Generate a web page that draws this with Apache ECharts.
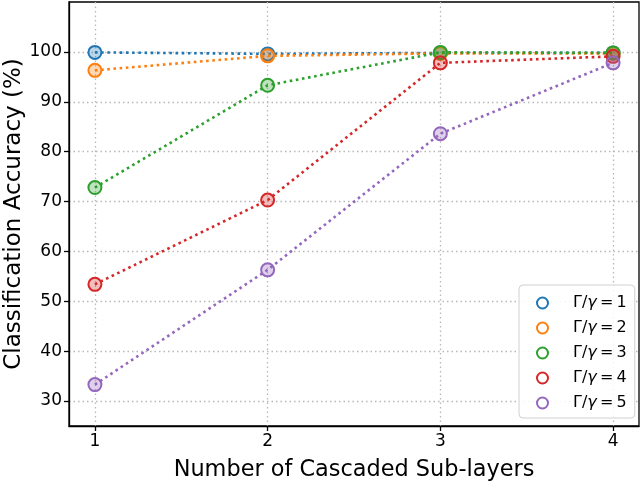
<!DOCTYPE html>
<html>
<head>
<meta charset="utf-8">
<script src="https://cdn.jsdelivr.net/npm/echarts@6/dist/echarts.min.js"></script>
<style>html,body{margin:0;padding:0;background:#fff}#c{width:640px;height:482px}</style>
</head>
<body>
<div id="c"></div>
<script>
const xValues = [1, 2, 3, 4];
const xTicks = [1, 2, 3, 4];
const yTicks = [30, 40, 50, 60, 70, 80, 90, 100];
const ratios = [1, 2, 3, 4, 5];
const acc1 = [99.9, 99.6, 99.8, 99.8];
const acc2 = [96.3, 99.2, 99.7, 99.7];
const acc3 = [72.8, 93.3, 99.9, 99.8];
const acc4 = [53.4, 70.3, 97.8, 99.1];
const acc5 = [33.3, 56.3, 83.6, 97.8];
const colors = ['#1f77b4', '#ff7f0e', '#2ca02c', '#d62728', '#9467bd'];
const allAcc = [acc1, acc2, acc3, acc4, acc5];

function rgba(hex, a) {
  const n = parseInt(hex.slice(1), 16);
  return 'rgba(' + ((n >> 16) & 255) + ',' + ((n >> 8) & 255) + ',' + (n & 255) + ',' + a + ')';
}
const names = ratios.map(r => 'Γ/γ = ' + r);
const series = allAcc.map((arr, i) => ({
  name: names[i],
  type: 'line',
  data: arr.map((v, j) => [xValues[j], v]),
  symbol: 'circle',
  symbolSize: 13,
  lineStyle: { color: colors[i], width: 2.6, type: [2.6, 3.6], cap: 'butt' },
  itemStyle: { color: rgba(colors[i], 0.3), borderColor: colors[i], borderWidth: 2 },
  emphasis: { disabled: true },
  z: 3 + i
}));
const chart = echarts.init(document.getElementById('c'), null, { renderer: 'canvas' });
const fontFam = 'DejaVu Sans';
chart.setOption({
  animation: false,
  backgroundColor: '#fff',
  grid: { left: 69, right: 1, top: 2, bottom: 56, outerBoundsMode: 'none', containLabel: false, show: true, borderColor: '#000', borderWidth: 1.3, backgroundColor: 'transparent' },
  xAxis: {
    type: 'value', min: 0.85, max: 4.15,
    name: 'Number of Cascaded Sub-layers', nameLocation: 'middle', nameGap: 33, nameMoveOverlap: false,
    nameTextStyle: { fontFamily: fontFam, fontSize: 22.4, color: '#000' },
    axisLine: { show: true, lineStyle: { color: '#000', width: 1.3 } },
    axisTick: { show: true, length: 5, inside: false, customValues: xTicks, lineStyle: { color: '#000', width: 1.3 } },
    axisLabel: { customValues: xTicks, fontFamily: fontFam, fontSize: 17, color: '#000', margin: 7, formatter: v => String(v) },
    splitLine: { show: true, lineStyle: { color: '#b8b8b8', width: 1.3, type: [1.5, 3] } }
  },
  yAxis: {
    type: 'value', min: 25, max: 110,
    name: 'Classification Accuracy (%)', nameLocation: 'middle', nameGap: 43, nameRotate: 90, nameMoveOverlap: false,
    nameTextStyle: { fontFamily: fontFam, fontSize: 23, color: '#000' },
    axisLine: { show: true, lineStyle: { color: '#000', width: 1.3 } },
    axisTick: { show: true, length: 5, inside: false, customValues: yTicks, lineStyle: { color: '#000', width: 1.3 } },
    axisLabel: { customValues: yTicks, fontFamily: fontFam, fontSize: 17, color: '#000', margin: 7, formatter: v => String(v) },
    splitLine: { show: true, lineStyle: { color: '#b8b8b8', width: 1.3, type: [1.5, 3] } }
  },
  legend: {
    orient: 'vertical',
    left: 519, top: 285,
    padding: [10, 8, 7, 17],
    itemGap: 9,
    itemWidth: 11, itemHeight: 11,
    backgroundColor: 'rgba(255,255,255,0.85)',
    borderColor: '#d0d0d0', borderWidth: 1, borderRadius: 4,
    data: names.map((n, i) => ({ name: n, icon: 'circle', itemStyle: { color: 'rgba(0,0,0,0)', borderColor: colors[i], borderWidth: 2 } })),
    formatter: n => '{a|Γ/}{b|γ}{a|\u2009=\u2009' + n.split('= ')[1] + '}',
    textStyle: {
      padding: [0, 0, 0, 20],
      rich: {
        a: { fontFamily: fontFam, fontSize: 16, lineHeight: 16, color: '#000' },
        b: { fontFamily: fontFam, fontSize: 16, lineHeight: 16, fontStyle: 'italic', color: '#000' }
      }
    }
  },
  series: series
});
</script>
</body>
</html>
